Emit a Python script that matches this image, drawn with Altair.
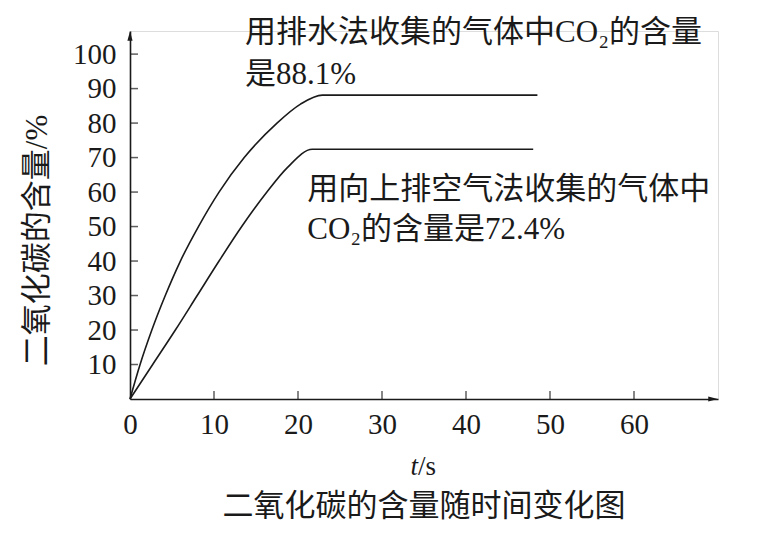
import altair as alt
import pandas as pd

# ---- data ----
water_t = [0, 1.2, 2.6, 4.2, 6.0, 8.15, 10.6, 13.6, 17.5, 20.3, 22.9, 48.5]
water_v = [0, 10, 20, 30, 40, 50, 60, 70, 80, 85.5, 88.1, 88.1]
air_t = [0, 2.7, 5.4, 8.0, 10.6, 13.3, 16.3, 18.7, 21.7, 48.0]
air_v = [0, 10, 20, 30, 40, 50, 60, 67, 72.4, 72.4]

x_ticks = [0, 10, 20, 30, 40, 50, 60]
y_ticks = [10, 20, 30, 40, 50, 60, 70, 80, 90, 100]
x_max = 70
y_max = 106.7

ann_text = ["用排水法收集的气体中CO₂的含量", "是88.1%",
            "用向上排空气法收集的气体中", "CO₂的含量是72.4%"]
ann_t = [13.7, 13.7, 21.1, 21.1]
ann_v = [103.5, 91.3, 58.1, 46.5]

y_title = "二氧化碳的含量/%"
caption = "二氧化碳的含量随时间变化图"

FONT = "Liberation Serif, Noto Sans CJK SC"
INK = "#1a1a1a"

curves = pd.DataFrame(
    [{"t": t, "v": v, "s": "water"} for t, v in zip(water_t, water_v)]
    + [{"t": t, "v": v, "s": "air"} for t, v in zip(air_t, air_v)]
)
ann = pd.DataFrame({"text": ann_text, "t": ann_t, "v": ann_v})
xt = pd.DataFrame({"t": [v for v in x_ticks if v > 0]})
yt = pd.DataFrame({"v": y_ticks})

W, H = 588, 368

xscale = alt.Scale(domain=[0, x_max], nice=False, zero=True)
yscale = alt.Scale(domain=[0, y_max], nice=False, zero=True)

xaxis = alt.Axis(values=x_ticks, ticks=False, grid=False, domainColor=INK,
                 domainWidth=1.6, labelFont=FONT, labelFontSize=29,
                 labelColor=INK, labelPadding=11, labelFlush=False,
                 title=None, format="d")
yaxis = alt.Axis(values=y_ticks, ticks=False, grid=False, domainColor=INK,
                 domainWidth=1.6, labelFont=FONT, labelFontSize=29,
                 labelColor=INK, labelPadding=14, labelFlush=False,
                 title=y_title,
                 titleFont=FONT, titleFontSize=31, titleFontWeight="normal",
                 titleColor=INK, titleX=-77, titleY=209, titleAngle=270,
                 titleBaseline="bottom", titleAlign="center", format="d")

base = alt.Chart(curves)

lines = base.mark_line(color=INK, strokeWidth=1.6, interpolate="monotone").encode(
    x=alt.X("t:Q", scale=xscale, axis=xaxis),
    y=alt.Y("v:Q", scale=yscale, axis=yaxis),
    detail="s:N",
)

xticks = alt.Chart(xt).mark_tick(orient="vertical", color=INK, thickness=1.5,
                                 size=8, yOffset=-4).encode(
    x=alt.X("t:Q", scale=xscale), y=alt.datum(0))
yticks = alt.Chart(yt).mark_tick(orient="horizontal", color=INK, thickness=1.5,
                                 size=8, xOffset=4).encode(
    y=alt.Y("v:Q", scale=yscale), x=alt.datum(0))

arrow_up = alt.Chart(pd.DataFrame({"t": [0], "v": [y_max]})).mark_point(
    shape="M0,-1L0.55,1L-0.55,1Z", filled=True, color=INK, opacity=1,
    size=90, yOffset=5).encode(x=alt.X("t:Q", scale=xscale), y=alt.Y("v:Q", scale=yscale))
arrow_right = alt.Chart(pd.DataFrame({"t": [x_max], "v": [0]})).mark_point(
    shape="M1,0L-1,0.55L-1,-0.55Z", filled=True, color=INK, opacity=1,
    size=90, xOffset=-5).encode(x=alt.X("t:Q", scale=xscale), y=alt.Y("v:Q", scale=yscale))

texts = alt.Chart(ann).mark_text(align="left", baseline="alphabetic", font=FONT,
                                 fontSize=31, color=INK).encode(
    x=alt.X("t:Q", scale=xscale), y=alt.Y("v:Q", scale=yscale), text="text:N")

t_label = alt.Chart(pd.DataFrame({"a": [0]})).mark_text(
    align="right", baseline="alphabetic", font=FONT, fontSize=27,
    fontStyle="italic", color=INK, dx=-6).encode(
    x=alt.datum(35), y=alt.value(H + 76), text=alt.value("t"))
s_label = alt.Chart(pd.DataFrame({"a": [0]})).mark_text(
    align="left", baseline="alphabetic", font=FONT, fontSize=27,
    color=INK, dx=-6).encode(
    x=alt.datum(35), y=alt.value(H + 76), text=alt.value("/s"))

chart = alt.layer(lines, xticks, yticks, arrow_up, arrow_right, texts,
                  t_label, s_label).properties(
    width=W, height=H,
    autosize=alt.AutoSizeParams(type="none"),
    padding={"left": 122, "top": 23, "right": 50, "bottom": 132},
    title=alt.TitleParams(caption, orient="bottom", anchor="middle",
                          frame="group", font=FONT, fontSize=31,
                          fontWeight="normal", color=INK, offset=12),
).configure_view(stroke=None).configure(background="white")

chart.save("out.html", embed_options={"renderer": "svg", "actions": False})
